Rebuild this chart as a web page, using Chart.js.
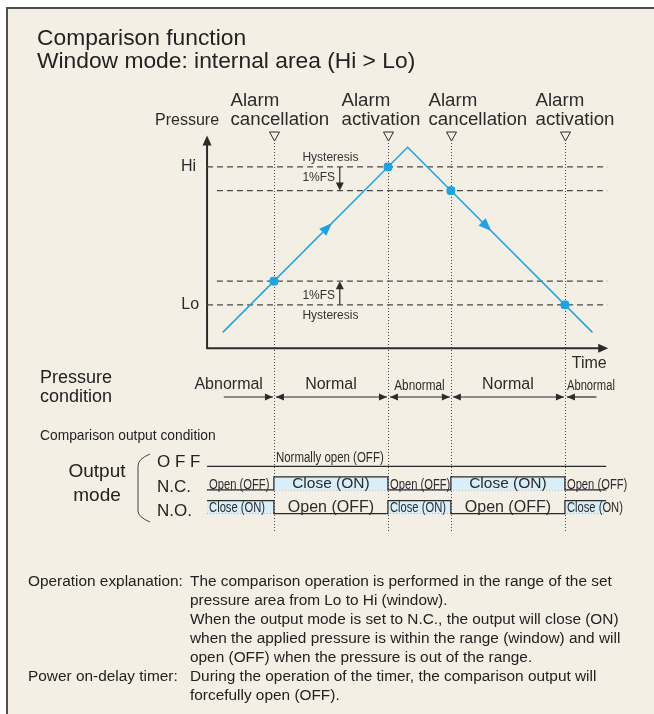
<!DOCTYPE html>
<html>
<head>
<meta charset="utf-8">
<script src="https://cdn.jsdelivr.net/npm/chart.js@4.4.0/dist/chart.umd.min.js"></script>
<style>
  html, body { margin: 0; padding: 0; background: #fff; }
  body { width: 654px; height: 714px; position: relative; overflow: hidden;
         font-family: "Liberation Sans", Arial, sans-serif; color: #222; }
  #frame { position: absolute; left: 6px; top: 7px; width: 660px; height: 720px;
           background: #f4efe5; border-left: 2px solid #4d4d4d; border-top: 2px solid #4d4d4d; }
  #diagram { position: absolute; left: 0; top: 0; }
  .txt { position: absolute; white-space: nowrap; line-height: 1; }
  .narrow { display: inline-block; transform-origin: left center; }
</style>
</head>
<body>
<div id="frame"></div>
<canvas id="diagram" width="654" height="714"></canvas>

<div class="txt" style="left:37px; top:26px; font-size:22.8px; line-height:23px;">Comparison function<br>Window mode: internal area (Hi &gt; Lo)</div>

<div class="txt" style="left:40px; top:368px; font-size:18px; line-height:19px;">Pressure<br>condition</div>
<div class="txt" style="left:40px; top:427px; font-size:15px;"><span class="narrow" style="transform:scaleX(0.92)">Comparison output condition</span></div>
<div class="txt" style="left:62px; top:459px; width:70px; text-align:center; font-size:19px; line-height:24px;">Output<br>mode</div>
<div class="txt" style="left:157px; top:450px; font-size:17px; line-height:24.5px;">O F F<br>N.C.<br>N.O.</div>

<div class="txt" style="left:28px; top:571px; font-size:15.4px; line-height:19px;">Operation explanation:</div>
<div class="txt" style="left:190px; top:571px; font-size:15.4px; line-height:19px;">The comparison operation is performed in the range of the set<br>pressure area from Lo to Hi (window).<br>When the output mode is set to N.C., the output will close (ON)<br>when the applied pressure is within the range (window) and will<br>open (OFF) when the pressure is out of the range.</div>
<div class="txt" style="left:28px; top:666px; font-size:15.4px; line-height:19px;">Power on-delay timer:</div>
<div class="txt" style="left:190px; top:666px; font-size:15.4px; line-height:19px;">During the operation of the timer, the comparison output will<br>forcefully open (OFF).</div>

<script>
// --- Data ---
const pressureTimes = [8, 102, 196];
const pressureValues = [8, 102, 8];
const hiLevel = 92;
const loLevel = 22;
const hysteresis = 12;
const eventTimes = [34, 92, 124, 182];
const eventPressures = [34, 92, 80, 22];
const eventLabels = [['Alarm', 'cancellation'], ['Alarm', 'activation'], ['Alarm', 'cancellation'], ['Alarm', 'activation']];
const conditionLabels = ['Abnormal', 'Normal', 'Abnormal', 'Normal', 'Abnormal'];
const ncStates = [0, 1, 0, 1, 0];
const noStates = [1, 0, 1, 0, 1];
const timeStart = 0;
const timeEnd = 203;

// row levels for the output chart (yo scale)
const rowOff = 2, rowNC = 1, rowNO = 0, highStep = 0.55;

const FONT = '"Liberation Sans", Arial, sans-serif';
const INK = '#2b2b2b';
const BLUE = '#1ba3e6';

const bounds = [timeStart, ...eventTimes, timeEnd];

function stepData(states, row) {
    return bounds.map((t, i) => ({ x: t, y: row + highStep * states[Math.min(i, states.length - 1)] }));
}
function flatLine(t0, t1, v) { return [{ x: t0, y: v }, { x: t1, y: v }]; }

const dashed = { borderColor: '#4a4a4a', borderWidth: 1.3, borderDash: [6, 4], pointRadius: 0, fill: false, yAxisID: 'y' };

const datasets = [
    { ...dashed, data: flatLine(timeStart, timeEnd + 0.5, hiLevel), order: 5 },
    { ...dashed, data: flatLine(timeStart + 5, timeEnd + 0.5, hiLevel - hysteresis), order: 5 },
    { ...dashed, data: flatLine(timeStart + 5, timeEnd + 0.5, loLevel + hysteresis), order: 5 },
    { ...dashed, data: flatLine(timeStart, timeEnd + 0.5, loLevel), order: 5 },
    { data: pressureTimes.map((t, i) => ({ x: t, y: pressureValues[i] })), borderColor: BLUE, borderWidth: 1.5,
      pointRadius: 0, fill: false, yAxisID: 'y', order: 2 },
    { type: 'scatter', data: eventTimes.map((t, i) => ({ x: t, y: eventPressures[i] })), backgroundColor: BLUE,
      borderColor: BLUE, pointStyle: 'rectRounded', pointRadius: 4.5, yAxisID: 'y', order: 1 },
    // output rows
    { data: flatLine(timeStart, timeEnd, rowOff), borderColor: INK, borderWidth: 1.3, pointRadius: 0, fill: false, yAxisID: 'yo', order: 3 },
    { data: flatLine(timeStart, timeEnd, rowNC), borderColor: '#3d8fd4', borderWidth: 1, borderDash: [1, 2],
      pointRadius: 0, fill: false, yAxisID: 'yo', order: 4 },
    { data: stepData(ncStates, rowNC), stepped: 'before', borderColor: INK, borderWidth: 1.3, pointRadius: 0,
      fill: '-1', backgroundColor: '#d8eef9', yAxisID: 'yo', order: 3 },
    { data: flatLine(timeStart, timeEnd, rowNO), borderColor: '#3d8fd4', borderWidth: 1, borderDash: [1, 2],
      pointRadius: 0, fill: false, yAxisID: 'yo', order: 4 },
    { data: stepData(noStates, rowNO), stepped: 'before', borderColor: INK, borderWidth: 1.3, pointRadius: 0,
      fill: '-1', backgroundColor: '#d8eef9', yAxisID: 'yo', order: 3 }
];

// --- drawing helpers ---
function arrowHead(ctx, x, y, dx, dy, len, half) {
    const n = Math.hypot(dx, dy); dx /= n; dy /= n;
    ctx.beginPath();
    ctx.moveTo(x, y);
    ctx.lineTo(x - dx * len - dy * half, y - dy * len + dx * half);
    ctx.lineTo(x - dx * len + dy * half, y - dy * len - dx * half);
    ctx.closePath();
    ctx.fill();
}
function line(ctx, x0, y0, x1, y1) { ctx.beginPath(); ctx.moveTo(x0, y0); ctx.lineTo(x1, y1); ctx.stroke(); }
function text(ctx, str, x, y, size, align, squeeze) {
    ctx.save();
    ctx.font = size + 'px ' + FONT;
    ctx.textBaseline = 'middle';
    ctx.translate(x, y);
    ctx.scale(squeeze || 1, 1);
    ctx.textAlign = align || 'left';
    ctx.fillText(str, 0, 0);
    ctx.restore();
}

const diagramPlugin = {
    id: 'diagram',
    beforeDatasetsDraw(chart) {
        const { ctx, scales: { x, y } } = chart;
        ctx.save();
        // event guide lines
        ctx.strokeStyle = '#444'; ctx.lineWidth = 1; ctx.setLineDash([1, 2]);
        eventTimes.forEach(t => {
            const px = Math.round(x.getPixelForValue(t)) + 0.5;
            line(ctx, px, 143, px, 532);
        });
        ctx.setLineDash([]);
        // axes
        const ox = x.getPixelForValue(0), oy = y.getPixelForValue(0);
        const topY = y.getPixelForValue(108), rightX = x.getPixelForValue(204);
        ctx.strokeStyle = INK; ctx.fillStyle = INK; ctx.lineWidth = 2;
        line(ctx, ox, oy, ox, topY + 6);
        line(ctx, ox - 1, oy, rightX - 6, oy);
        arrowHead(ctx, ox, topY, 0, -1, 10, 4.5);
        arrowHead(ctx, rightX, oy, 1, 0, 10, 4.5);
        ctx.restore();
    },
    afterDatasetsDraw(chart) {
        const { ctx, scales: { x, y, yo } } = chart;
        ctx.save();
        ctx.fillStyle = INK; ctx.strokeStyle = INK;

        // event markers and labels
        const labelShift = [-44, -47, -23, -30];
        eventTimes.forEach((t, i) => {
            const px = Math.round(x.getPixelForValue(t)) + 0.5;
            ctx.lineWidth = 1;
            ctx.beginPath(); ctx.moveTo(px - 5, 132); ctx.lineTo(px + 5, 132); ctx.lineTo(px, 141); ctx.closePath(); ctx.stroke();
            text(ctx, eventLabels[i][0], px + labelShift[i], 101, 18.7, 'left');
            text(ctx, eventLabels[i][1], px + labelShift[i], 120, 18.7, 'left');
        });

        // axis labels
        const ox = x.getPixelForValue(0);
        text(ctx, 'Pressure', ox + 12, 121, 16, 'right');
        text(ctx, 'Hi', ox - 11, y.getPixelForValue(hiLevel), 16, 'right');
        text(ctx, 'Lo', ox - 8, y.getPixelForValue(loLevel), 16, 'right');
        text(ctx, 'Time', x.getPixelForValue(185.5), 364, 16, 'left');

        // hysteresis markers
        const hx = x.getPixelForValue(67.5);
        ctx.lineWidth = 1.2;
        const yHi = y.getPixelForValue(hiLevel), yHiH = y.getPixelForValue(hiLevel - hysteresis);
        const yLo = y.getPixelForValue(loLevel), yLoH = y.getPixelForValue(loLevel + hysteresis);
        line(ctx, hx, yHi, hx, yHiH - 6);
        arrowHead(ctx, hx, yHiH, 0, 1, 8, 4);
        line(ctx, hx, yLo, hx, yLoH + 6);
        arrowHead(ctx, hx, yLoH, 0, -1, 8, 4);
        ctx.fillStyle = '#333';
        const tx = x.getPixelForValue(48.5);
        text(ctx, 'Hysteresis', tx, yHi - 9, 12, 'left');
        text(ctx, '1%FS', tx, yHi + 11, 12, 'left');
        text(ctx, '1%FS', tx, yLo - 9, 12, 'left');
        text(ctx, 'Hysteresis', tx, yLo + 11, 12, 'left');

        // direction arrows on the pressure line
        ctx.fillStyle = BLUE;
        [[61, 1], [142, -1]].forEach(([t, dir]) => {
            const peak = pressureTimes[1];
            const p = t < peak ? pressureValues[0] + (t - pressureTimes[0]) : pressureValues[1] - (t - peak);
            const px = x.getPixelForValue(t), py = y.getPixelForValue(p);
            const dx = x.getPixelForValue(t + 1) - px;
            const dy = y.getPixelForValue(p + dir) - py;
            arrowHead(ctx, px + 5, py + 5 * dy / dx, dx, dy, 13, 5);
        });

        // pressure condition row
        ctx.fillStyle = INK; ctx.strokeStyle = INK; ctx.lineWidth = 1.2;
        const rowY = 397, labY = 385;
        bounds.slice(0, -1).forEach((t0, i) => {
            const a = i === 0 ? x.getPixelForValue(8.5) : x.getPixelForValue(t0) + 2;
            const b = i === 4 ? x.getPixelForValue(198) : x.getPixelForValue(bounds[i + 1]) - 1;
            line(ctx, a, rowY, b, rowY);
            if (i < 4) arrowHead(ctx, b, rowY, 1, 0, 8, 3.5);
            if (i > 0) arrowHead(ctx, a, rowY, -1, 0, 8, 3.5);
            const mid = (x.getPixelForValue(t0) + x.getPixelForValue(bounds[i + 1])) / 2;
            if (i === 0) text(ctx, conditionLabels[i], x.getPixelForValue(eventTimes[0]) - 11, labY, 16, 'right');
            else if (i === 4) text(ctx, conditionLabels[i], x.getPixelForValue(eventTimes[3]) + 2, labY + 1, 14, 'left', 0.8);
            else if (i === 2) text(ctx, conditionLabels[i], mid, labY + 1, 14, 'center', 0.84);
            else text(ctx, conditionLabels[i], mid, labY, 16, 'center');
        });

        // output rows text
        text(ctx, 'Normally open (OFF)', x.getPixelForValue(eventTimes[0]) + 2, yo.getPixelForValue(rowOff) - 8, 14, 'left', 0.82);
        [[ncStates, rowNC], [noStates, rowNO]].forEach(([states, row]) => {
            states.forEach((s, i) => {
                const x0 = x.getPixelForValue(bounds[i]), x1 = x.getPixelForValue(bounds[i + 1]);
                const ty = yo.getPixelForValue(row) - 5;
                if (row === rowNC ? s === 0 : s === 1) {
                    text(ctx, s ? 'Close (ON)' : 'Open (OFF)', x0 + 2, ty, 14, 'left', 0.8);
                } else {
                    text(ctx, s ? 'Close (ON)' : 'Open (OFF)', (x0 + x1) / 2, ty - 1, s ? 15.5 : 16, 'center');
                }
            });
        });

        // bracket for output mode
        ctx.lineWidth = 1; ctx.strokeStyle = '#444';
        ctx.beginPath();
        ctx.moveTo(150, 454);
        ctx.quadraticCurveTo(138, 459, 138, 466);
        ctx.lineTo(138, 511);
        ctx.quadraticCurveTo(138, 517, 150, 522);
        ctx.stroke();
        ctx.restore();
    }
};

new Chart(document.getElementById('diagram').getContext('2d'), {
    type: 'line',
    data: { datasets },
    options: {
        responsive: false,
        animation: false,
        events: [],
        layout: { padding: 0 },
        plugins: { legend: { display: false }, tooltip: { enabled: false } },
        scales: {
            x: { type: 'linear', min: -102.5, max: 224.5, display: false },
            y: { type: 'linear', min: -183, max: 174, display: false },
            yo: { type: 'linear', min: -8.25, max: 21.5, display: false }
        }
    },
    plugins: [diagramPlugin]
});
</script>
</body>
</html>
